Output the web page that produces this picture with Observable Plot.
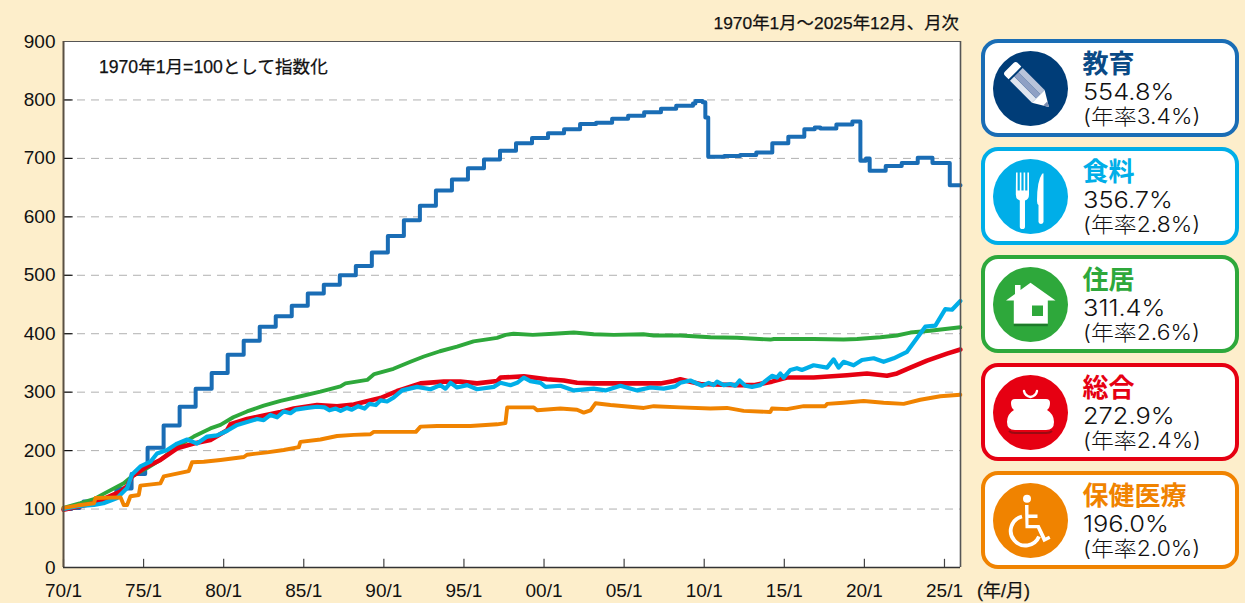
<!DOCTYPE html>
<html lang="ja"><head><meta charset="utf-8">
<script src="https://cdn.jsdelivr.net/npm/d3@7"></script>
<script src="https://cdn.jsdelivr.net/npm/@observablehq/plot@0.6"></script>
<style>
html,body{margin:0;padding:0;background:#fdeecb;width:1245px;height:603px;overflow:hidden}
#wrap{position:relative;width:1245px;height:603px;font-family:"Liberation Sans","Noto Sans CJK JP",sans-serif;color:#111}
#wrap svg.plot{position:absolute;left:0;top:0;background:transparent}
.note{position:absolute;white-space:nowrap;font-family:"Liberation Sans","Noto Sans CJK JP",sans-serif;-webkit-text-stroke:0.25px #111}
.card{position:absolute;left:981px;width:249.5px;height:89.5px;background:#fff;border-style:solid;border-width:4px;border-radius:17px}
.card svg{position:absolute;left:7.5px;top:7.5px}
.card .t{position:absolute;left:97.5px;top:5px;font:bold 26px/28px "Noto Sans CJK JP";white-space:nowrap}
.card .p{position:absolute;left:97.5px;top:36px;font:300 22.5px/26px Inter,"Noto Sans CJK JP";color:#111;white-space:nowrap;transform:scaleX(1.13);transform-origin:left}
.card .r{position:absolute;left:97.5px;top:61px;font:300 21px/26px Inter,"Noto Sans CJK JP";color:#111;white-space:nowrap;transform:scaleX(1.09);transform-origin:left}
</style></head><body><div id="wrap"></div>
<script>
const xTicks = [1970,1975,1980,1985,1990,1995,2000,2005,2010,2015,2020,2025];
const xLabels = ["70/1","75/1","80/1","85/1","90/1","95/1","00/1","05/1","10/1","15/1","20/1","25/1"];
const yTicks = [0,100,200,300,400,500,600,700,800,900];

const eduT = [1970,1970.5,1971,1971.25,1972.25,1973.1,1973.3,1974.25,1975.1,1975.25,1976.25,1977.25,1978.25,1979.25,1980.25,1981.25,1982.25,1983.25,1984.25,1985.25,1986.25,1987.25,1988.25,1989.25,1990.25,1991.25,1992.25,1993.25,1994.25,1995.25,1996.25,1997.25,1998.25,1999.25,2000.25,2001.25,2002.25,2003.25,2004.25,2005.25,2006.25,2007.3,2008.25,2009.3,2009.45,2009.9,2010.07,2010.25,2011.25,2012.25,2013.25,2014.25,2015.25,2016.25,2016.9,2017.25,2018.25,2019.25,2019.75,2020.1,2020.33,2021.33,2022.33,2023.33,2024.25,2025.33,2026];
const eduV = [100,102,106,113,117,122,135,160,172,205,243,275,306,333,364,388,412,430,448,469,484,500,516,539,567,594,619,645,664,683,698,713,726,735,743,750,759,761,768,773,779,785,790,794,798,796,770,703,704,706,710,726,737,750,753,751,758,763,696,700,679,687,692,701,692,654,654];

const houseT = [1970,1971.06,1971.9,1972.5,1973.76,1974.28,1975.22,1976.05,1977.09,1978.13,1979.17,1979.8,1980.6,1981.46,1982.5,1983.55,1984.8,1986.04,1987.29,1987.6,1988.96,1989.4,1990.6,1991.66,1992.5,1993.5,1994.57,1995.6,1997.07,1997.6,1998.1,1999.3,2000.6,2001.86,2003.1,2004.35,2006.2,2006.85,2008.5,2010.4,2012.05,2014.13,2014.35,2016.83,2018.7,2019.54,2021,2022.03,2022.87,2024.1,2025.99];
const houseV = [102,110,117,126,144,156,170,184,207,224,238,244,257,267,277,285,293,301,310,315,321,331,340,352,361,370,378,387,393,398,400,398,400,402,399,398,399,397,397,394,393,390,391,391,390,391,394,397,402,405,411];

const totalT = [1970,1971.9,1973.56,1973.97,1974.28,1975.22,1976.05,1977.09,1978.13,1979.17,1980.21,1980.42,1981.46,1982.5,1983.55,1984.38,1985.83,1987.08,1988.12,1988.75,1989.79,1990.83,1991.04,1992.29,1993.74,1994.78,1995.82,1997.07,1997.28,1998.74,2000.19,2001.23,2002.06,2003.1,2005.19,2007.27,2008.1,2008.51,2009.13,2009.76,2012.05,2013.09,2014.23,2015.17,2016.83,2018.91,2020.16,2021.41,2022.04,2022.87,2023.91,2025.16,2025.99];
const totalV = [99,110,130,139,156,173,184,204,212,218,235,245,254,260,266,272,278,276,279,283,290,302,304,315,318,318,315,319,325,327,322,320,316,315,315,315,319,322,318,314,312,312,318,325,325,329,332,328,332,342,354,366,373];

const foodT = [1970.02,1970.85,1971.9,1972.5,1973.35,1973.97,1974.28,1974.8,1975.43,1975.84,1976.47,1977.09,1977.72,1978.34,1978.97,1979.59,1980.22,1980.84,1981.46,1982.09,1982.5,1982.92,1983.34,1983.75,1984.17,1984.48,1985.21,1985.83,1986.3,1986.6,1987,1987.3,1987.7,1988,1988.4,1988.8,1989.1,1989.5,1989.8,1990.2,1990.62,1991.14,1992.08,1992.91,1993.53,1993.85,1994.16,1994.57,1995.2,1995.82,1996.86,1997.28,1997.9,1998.32,1998.74,1999.15,1999.78,2000.09,2001.02,2001.86,2003.1,2003.83,2004.77,2005.81,2006.64,2007.47,2008.2,2008.51,2009.13,2009.86,2010.28,2010.59,2010.8,2011.21,2011.63,2011.94,2012.21,2012.57,2012.98,2013.5,2014.23,2014.54,2014.75,2014.96,2015.38,2015.79,2016.1,2016.83,2017.67,2018.08,2018.39,2018.7,2019.33,2019.85,2020.58,2021.2,2021.83,2022.66,2023.8,2024.43,2025.05,2025.47,2025.99];
const foodV = [100,105,107,110,119,136,159,173,181,195,201,212,219,212,224,226,234,244,249,254,252,261,257,267,264,270,273,275,274,269,272,268,273,270,276,272,280,278,286,284,291,303,309,305,312,306,316,308,312,305,309,316,312,316,325,319,316,309,311,303,306,303,311,303,308,306,310,316,320,311,316,312,318,312,314,311,320,311,309,312,328,325,332,325,338,341,338,346,342,356,342,352,346,355,358,352,358,369,412,414,442,441,456];

const medT = [1970,1970.85,1971.9,1972,1973.56,1973.76,1973.97,1974.18,1974.7,1974.8,1976.05,1976.26,1977.82,1978.03,1978.76,1979.8,1981.26,1981.46,1982.71,1983.75,1984.69,1984.79,1986.04,1987.08,1988.12,1989.16,1989.37,1992,1992.29,1993.33,1995.41,1997.07,1997.59,1997.7,1999.36,1999.57,2001.02,2002.06,2002.48,2002.9,2003.21,2004.15,2006.23,2006.85,2008.51,2010.38,2011.42,2012.46,2014.13,2014.23,2015.17,2016.21,2017.56,2017.67,2018.7,2019.95,2021.2,2022.45,2023.49,2024.74,2025.99];
const medV = [102,106,110,119,120,107,107,122,124,140,144,156,165,180,181,184,189,193,197,201,206,215,219,225,227,228,232,232,241,242,242,245,247,274,274,269,272,270,265,269,281,278,273,276,274,272,273,268,266,272,271,276,276,280,282,285,282,280,287,293,295.5];

const seriesNames = ["教育","食料","住居","総合","保健医療"];
const seriesPct = ["554.8%","356.7%","311.4%","272.9%","196.0%"];
const seriesRate = ["(年率3.4%)","(年率2.8%)","(年率2.6%)","(年率2.4%)","(年率2.0%)"];
const lineColors = ["#1a6db5","#00aee8","#2ea83b","#e60012","#f08300"];
const titleColors = ["#0a4a86","#00aee8","#2ea83b","#e60012","#f08300"];
const circleColors = ["#003d78","#00aee8","#2ea83b","#e60012","#f08300"];

const rows = (T,V)=>T.map((t,i)=>({t,v:V[i]}));
const lineOpts = (color,w)=>({x:"t",y:"v",stroke:color,strokeWidth:w,strokeLinejoin:"round",strokeLinecap:"round"});

const plot = Plot.plot({
  width:1245,height:603,marginLeft:63,marginRight:285,marginTop:41,marginBottom:36,
  style:{background:"transparent",fontFamily:'"Liberation Sans",sans-serif',fontSize:"19px",color:"#111"},
  x:{type:"linear",domain:[1970,2026],range:[63,960]},
  y:{type:"linear",domain:[0,900],range:[567,41]},
  marks:[
    Plot.rect([0],{x1:()=>1970,x2:()=>2026,y1:()=>0,y2:()=>900,fill:"#fff"}),
    Plot.ruleY(yTicks.slice(1,-1),{stroke:"#b0b0b0",strokeWidth:1,strokeDasharray:"8 6"}),
    Plot.ruleY(yTicks.slice(1,-1),{x1:()=>1970,x2:()=>1970.6,stroke:"#111",strokeWidth:1.2}),
    Plot.ruleX(xTicks,{y1:()=>0,y2:()=>14,stroke:"#444",strokeWidth:1.2}),
    Plot.line(rows(eduT,eduV),{...lineOpts(lineColors[0],4),curve:"step-after"}),
    Plot.line(rows(houseT,houseV),lineOpts(lineColors[2],3.9)),
    Plot.line(rows(totalT,totalV),lineOpts(lineColors[3],4.6)),
    Plot.line(rows(foodT,foodV),lineOpts(lineColors[1],4.2)),
    Plot.line(rows(medT,medV),lineOpts(lineColors[4],3.9)),
    Plot.ruleY([900],{stroke:"#555",strokeWidth:1}),
    Plot.ruleX([2026],{stroke:"#555",strokeWidth:1.6}),
    Plot.ruleX([1970],{stroke:"#5a5043",strokeWidth:2}),
    Plot.ruleY([0],{stroke:"#333",strokeWidth:1.6}),
    Plot.axisY({ticks:yTicks,tickSize:0,tickPadding:8,label:null,fontSize:19}),
    Plot.axisX({ticks:xTicks,tickSize:0,tickPadding:16,label:null,fontSize:19,tickFormat:d=>xLabels[xTicks.indexOf(d)]})
  ]
});
const wrap = document.getElementById("wrap");
plot.classList.add("plot");
wrap.appendChild(plot);

function note(text,css){const d=document.createElement("div");d.className="note";d.textContent=text;d.style.cssText=css;wrap.appendChild(d);}
note("1970年1月～2025年12月、月次","right:286px;top:13px;font-size:17.4px;line-height:20px;");
note("1970年1月=100として指数化","left:99px;top:57px;font-size:17.6px;line-height:20px;");
note("(年/月)","left:977px;top:581px;font-size:18px;line-height:20px;");

const icons = [
 c=>`<g transform="translate(37.5 37.5) rotate(-45)"><path d="M-9 -27 a3 3 0 0 1 3 -3 h12 a3 3 0 0 1 3 3 v5 h-18z" fill="#fff"/><rect x="-9" y="-20" width="6" height="31" fill="#dfe5ef"/><rect x="-3" y="-20" width="6" height="31" fill="#8ea0c4"/><rect x="3" y="-20" width="6" height="31" fill="#b9c4da"/><path d="M-9 11 h18 l-9 15z" fill="#fff"/><path d="M-3 21 h6 l-3 5z" fill="#7a8cb0"/></g>`,
 c=>`<g fill="#fff"><path d="M23 13.5 h1.6 v18 h2.2 v-18 h1.6 v18 h2.2 v-18 h1.6 v18 h2.2 v-18 h1.6 v22 q0 5 -4 6 v26 a2.6 2.6 0 0 1 -5.2 0 v-26 q-4 -1 -4 -6z"/><path d="M50.5 15 v48 a2.6 2.6 0 0 1 -5 0 v-17 q-1.5 -1 -1.5 -4 q0 -20 5 -27 q1.5 -1.5 1.5 0z"/></g>`,
 c=>`<path d="M37.5 15.8 L62.5 33.5 H54.8 V56.8 H20.800 V33.5 H13 L22 27 V18 H27.5 V23z" fill="#fff"/><rect x="20.800" y="56.8" width="34" height="2.4" fill="#1e7a2a"/><rect x="39" y="38.5" width="11" height="10.5" fill="${c}"/>`,
 c=>`<path d="M31 16 q1 5 6.5 6 q5.5 -1 6.5 -6" fill="none" stroke="#fff" stroke-width="2.4" stroke-linecap="round"/><path d="M22 24 h31 q4 0 4 4 q0 5 -3 7 q7 4 7 12 q0 8 -8 8 h-31 q-8 0 -8 -8 q0 -8 7 -12 q-3 -2 -3 -7 q0 -4 4 -4z" fill="#fff"/><path d="M16 56 q2 2 6 2 h31 q4 0 6 -2" fill="none" stroke="#9a0a12" stroke-width="2"/>`,
 c=>`<circle cx="34" cy="15.8" r="4" fill="#fff"/><path d="M32 22 h3.500 v9.500 h9 v3.500 h-9 v7 h11 l6 12.500 l3.500 -1.800 l1.500 3 l-7 3.500 l-6.500 -14 h-11.500z" fill="#fff"/><path d="M29 33.500 a14.700 14.700 0 1 0 17 20" fill="none" stroke="#fff" stroke-width="3.800"/>`
];
const cardTops = [39,147,255,363,471];
seriesNames.forEach((n,i)=>{
  const d=document.createElement("div");d.className="card";
  d.style.top=cardTops[i]+"px";d.style.borderColor=lineColors[i];
  d.innerHTML=`<svg width="75" height="75" viewBox="0 0 75 75"><circle cx="37.5" cy="37.5" r="37.5" fill="${circleColors[i]}"/>${icons[i](circleColors[i])}</svg>`+
    `<div class="t" style="color:${titleColors[i]}">${n}</div><div class="p">${seriesPct[i]}</div><div class="r">${seriesRate[i]}</div>`;
  wrap.appendChild(d);
});
</script></body></html>
